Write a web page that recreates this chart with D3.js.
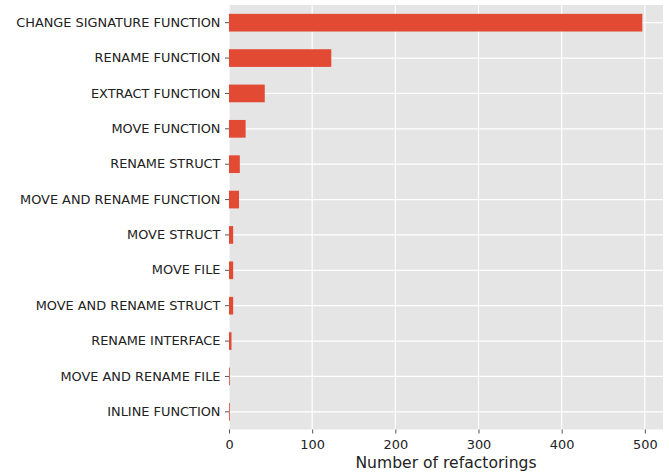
<!DOCTYPE html>
<html>
<head>
<meta charset="utf-8">
<script src="https://cdn.jsdelivr.net/npm/d3@7"></script>
<style>
body { margin: 0; background: #fff; }
svg text { font-family: "DejaVu Sans", sans-serif; }
</style>
</head>
<body>
<script>
// refactoring types, top to bottom
var categories = ["CHANGE SIGNATURE FUNCTION", "RENAME FUNCTION", "EXTRACT FUNCTION",
    "MOVE FUNCTION", "RENAME STRUCT", "MOVE AND RENAME FUNCTION", "MOVE STRUCT",
    "MOVE FILE", "MOVE AND RENAME STRUCT", "RENAME INTERFACE", "MOVE AND RENAME FILE",
    "INLINE FUNCTION"];
var counts = [497, 123, 43, 20, 13, 12, 5, 5, 5, 3, 1, 1];
var xTicks = [0, 100, 200, 300, 400, 500];

var W = 669, H = 473;
var mLeft = 229, mRight = 663, mTop = 5, mBottom = 429.5;

var svg = d3.select("body").append("svg")
    .attr("width", W).attr("height", H);

var x = d3.scaleLinear().domain([0, d3.max(counts) * 1.05]).range([mLeft, mRight]);
var y = d3.scaleBand().domain(categories).range([mTop, mBottom]).paddingInner(0.5).paddingOuter(0.25);

// background
svg.append("rect").attr("x", mLeft).attr("y", mTop)
    .attr("width", mRight - mLeft).attr("height", mBottom - mTop)
    .attr("fill", "#e5e5e5");

// grid
svg.append("g").selectAll("line").data(xTicks).enter().append("line")
    .attr("x1", d => x(d)).attr("x2", d => x(d))
    .attr("y1", mTop).attr("y2", mBottom)
    .attr("stroke", "#fff").attr("stroke-width", 1.2);
svg.append("g").selectAll("line").data(categories).enter().append("line")
    .attr("x1", mLeft).attr("x2", mRight)
    .attr("y1", d => y(d) + y.bandwidth() / 2).attr("y2", d => y(d) + y.bandwidth() / 2)
    .attr("stroke", "#fff").attr("stroke-width", 1.2);

// bars
svg.append("g").selectAll("rect").data(categories).enter().append("rect")
    .attr("x", x(0))
    .attr("y", d => y(d))
    .attr("width", (d, i) => x(counts[i]) - x(0))
    .attr("height", y.bandwidth())
    .attr("fill", "#e24a33");

// axes
var xAxis = d3.axisBottom(x).tickValues(xTicks).tickSize(4).tickPadding(6);
var gx = svg.append("g").attr("transform", "translate(0," + mBottom + ")").call(xAxis);
gx.select(".domain").remove();
gx.selectAll("line").attr("stroke", "#555").attr("stroke-width", 1);
gx.selectAll("text").attr("fill", "#222").style("font-size", "12.9px");

var yAxis = d3.axisLeft(y).tickSize(4).tickPadding(4.5);
var gy = svg.append("g").attr("transform", "translate(" + mLeft + ",0)").call(yAxis);
gy.select(".domain").remove();
gy.selectAll("line").attr("stroke", "#555").attr("stroke-width", 1);
gy.selectAll("text").attr("fill", "#222").style("font-size", "12.9px");

svg.append("text").attr("x", (mLeft + mRight) / 2).attr("y", 468)
    .attr("text-anchor", "middle").attr("fill", "#222")
    .style("font-size", "15.6px").text("Number of refactorings");
</script>
</body>
</html>
